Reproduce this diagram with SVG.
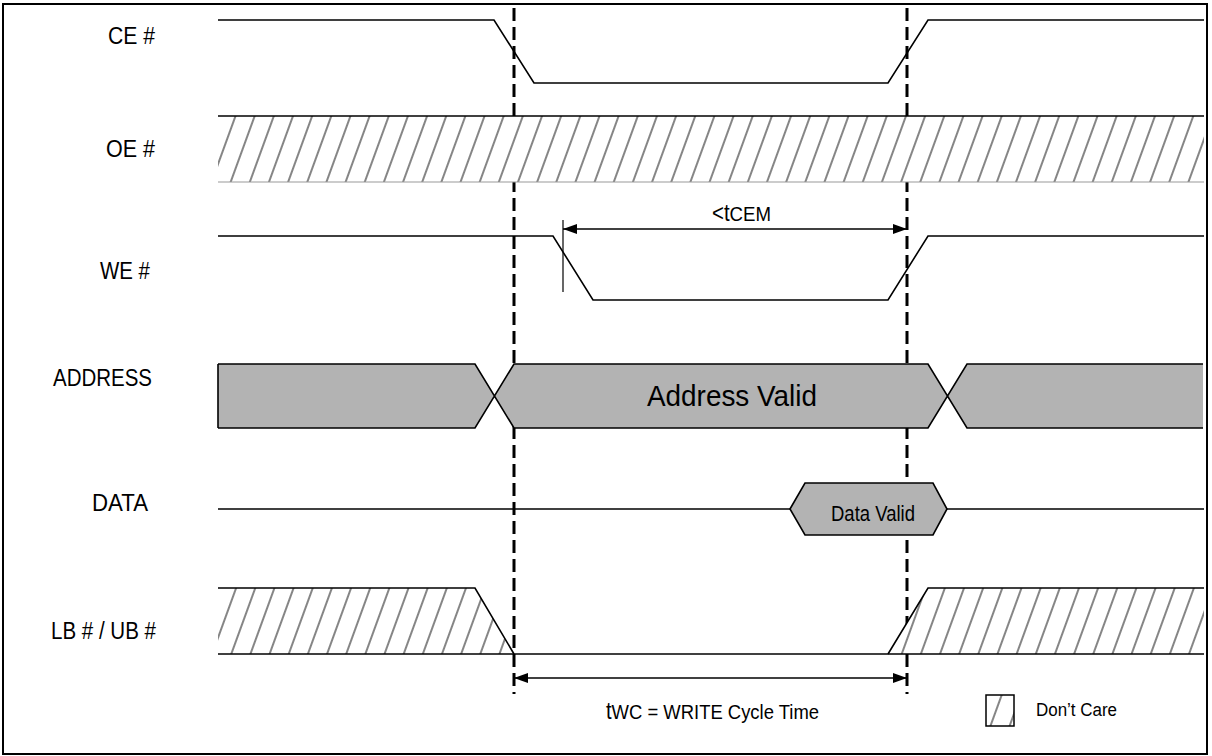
<svg xmlns="http://www.w3.org/2000/svg" width="1212" height="756" viewBox="0 0 1212 756">
<style>
  text { font-family: "Liberation Sans", Arial, sans-serif; fill: #000; }
  .lbl { font-size: 23px; text-anchor: end; }
  .sig { fill: none; stroke: #000; stroke-width: 1.6; stroke-linejoin: miter; }
  .dash { fill: none; stroke: #000; stroke-width: 3; stroke-dasharray: 13 6; }
  .bus { fill: #b3b3b3; stroke: none; }
  .arrow { fill: none; stroke: #000; stroke-width: 1.6; }
</style>
<defs>
  <pattern id="hatch" patternUnits="userSpaceOnUse" width="18" height="18" patternTransform="rotate(20)">
    <rect width="18" height="18" fill="#fff"/>
    <line x1="9" y1="-2" x2="9" y2="20" stroke="#444" stroke-width="1.3"/>
  </pattern>
  <marker id="ah" viewBox="0 0 14 10" refX="14" refY="5" markerWidth="14" markerHeight="10" markerUnits="userSpaceOnUse" orient="auto-start-reverse">
    <path d="M0,0 L14,5 L0,10 Z" fill="#000"/>
  </marker>
</defs>

<rect x="3" y="4" width="1204" height="750" fill="#fff" stroke="#000" stroke-width="2"/>

<g id="guides">
  <line class="dash" x1="514" y1="8" x2="514" y2="694"/>
  <line class="dash" x1="907" y1="8" x2="907" y2="694"/>
</g>

<g id="ce">
  <text class="lbl" x="155" y="44" textLength="47" lengthAdjust="spacingAndGlyphs">CE #</text>
  <polyline class="sig" points="218,20 494,20 534,83 888,83 928,20 1204,20"/>
</g>

<g id="oe">
  <text class="lbl" x="155" y="157" textLength="49" lengthAdjust="spacingAndGlyphs">OE #</text>
  <rect x="218" y="116" width="986" height="66" fill="url(#hatch)"/>
  <line x1="218" y1="116" x2="1204" y2="116" stroke="#000" stroke-width="1.6"/>
  <line x1="218" y1="182" x2="1204" y2="182" stroke="#999" stroke-width="1.2"/>
</g>

<g id="we">
  <text class="lbl" x="150" y="279" textLength="50" lengthAdjust="spacingAndGlyphs">WE #</text>
  <polyline class="sig" points="218,236 553,236 593,300 888,300 928,236 1204,236"/>
</g>

<g id="address">
  <text class="lbl" x="152" y="386" textLength="99" lengthAdjust="spacingAndGlyphs">ADDRESS</text>
  <polygon class="bus" points="218,364 475,364 494.5,396 475,428 218,428"/>
  <polygon class="bus" points="514,364 928,364 947.5,396 928,428 514,428 494.5,396"/>
  <polygon class="bus" points="967,364 1203,364 1203,428 967,428 947.5,396"/>
  <path class="sig" d="M218,364 V428 M218,364 H475 L514,428 H928 L967,364 H1203 M218,428 H475 L514,364 H928 L967,428 H1203"/>
  <text x="732" y="406" font-size="30" text-anchor="middle" textLength="170" lengthAdjust="spacingAndGlyphs">Address Valid</text>
</g>

<g id="data">
  <text class="lbl" x="148" y="511" textLength="56" lengthAdjust="spacingAndGlyphs">DATA</text>
  <line class="sig" x1="218" y1="509" x2="790" y2="509"/>
  <polygon points="790,509 805,483 933,483 947,509 933,535 805,535" fill="#b3b3b3" stroke="#000" stroke-width="1.6"/>
  <line class="sig" x1="947" y1="509" x2="1204" y2="509"/>
  <text x="873" y="521" font-size="22" text-anchor="middle" textLength="84" lengthAdjust="spacingAndGlyphs">Data Valid</text>
</g>

<g id="lbub">
  <text class="lbl" x="156" y="639" textLength="105" lengthAdjust="spacingAndGlyphs">LB # / UB #</text>
  <polygon points="218,588 475,588 514,654 218,654" fill="url(#hatch)"/>
  <polygon points="888,654 928,588 1204,588 1204,654" fill="url(#hatch)"/>
  <polyline class="sig" points="218,588 475,588 514,654"/>
  <polyline class="sig" points="888,654 928,588 1204,588"/>
  <line class="sig" x1="218" y1="654" x2="1204" y2="654"/>
</g>

<g id="connectors">
  <line x1="563" y1="220" x2="563" y2="292" stroke="#000" stroke-width="1.2"/>
  <line class="arrow" x1="563" y1="229" x2="907" y2="229" marker-start="url(#ah)" marker-end="url(#ah)"/>
  <line class="arrow" x1="514" y1="678" x2="907" y2="678" marker-start="url(#ah)" marker-end="url(#ah)"/>
</g>

<g id="label-tcem">
  <text x="712" y="221" textLength="59" lengthAdjust="spacingAndGlyphs"><tspan font-size="23">&lt;t</tspan><tspan font-size="21">CEM</tspan></text>
</g>

<g id="label-twc">
  <text x="606" y="719" textLength="213" lengthAdjust="spacingAndGlyphs"><tspan font-size="23">t</tspan><tspan font-size="21">WC = WRITE Cycle Time</tspan></text>
</g>

<g id="legend">
  <rect x="986" y="695" width="28" height="31" fill="url(#hatch)" stroke="#000" stroke-width="1.5"/>
  <text x="1036" y="716" font-size="18" textLength="81" lengthAdjust="spacingAndGlyphs">Don’t Care</text>
</g>
</svg>
